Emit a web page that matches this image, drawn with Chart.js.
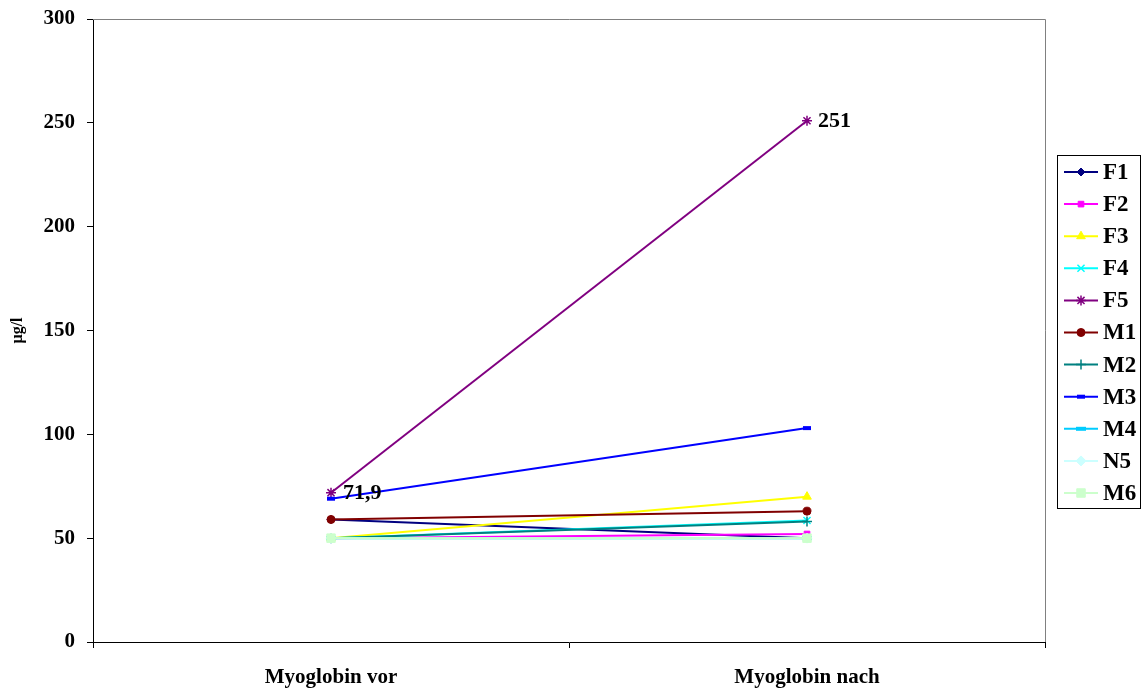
<!DOCTYPE html>
<html>
<head>
<meta charset="utf-8">
<script src="https://cdn.jsdelivr.net/npm/chart.js@4/dist/chart.umd.min.js"></script>
<style>
  html, body { margin: 0; padding: 0; background: #fff; }
  #wrap { width: 1144px; height: 691px; }
</style>
</head>
<body>
<div id="wrap"><canvas id="chart" width="1144" height="691"></canvas></div>
<script>
// categories and series (µg/l)
const categories = ["Myoglobin vor", "Myoglobin nach"];
const F1 = [59, 50];
const F2 = [50, 52];
const F3 = [50, 70];
const F4 = [50, 58.5];
const F5 = [71.9, 251];
const M1 = [59, 63];
const M2 = [50, 58];
const M3 = [69, 103];
const M4 = [50, 50];
const N5 = [50, 50];
const M6 = [50, 50];
const yTicks = [0, 50, 100, 150, 200, 250, 300];

const FONT = "'Liberation Serif', 'Times New Roman', serif";

const series = [
  { label: "F1", data: F1, color: "#000080", style: "rectRot", r: 4 },
  { label: "F2", data: F2, color: "#FF00FF", style: "rect", r: 4 },
  { label: "F3", data: F3, color: "#FFFF00", style: "triangle", r: 5 },
  { label: "F4", data: F4, color: "#00FFFF", style: "crossRot", r: 5 },
  { label: "F5", data: F5, color: "#800080", style: "star", r: 5 },
  { label: "M1", data: M1, color: "#800000", style: "circle", r: 4 },
  { label: "M2", data: M2, color: "#008080", style: "cross", r: 5 },
  { label: "M3", data: M3, color: "#0000FF", style: "line", r: 4 },
  { label: "M4", data: M4, color: "#00CCFF", style: "line", r: 5 },
  { label: "N5", data: N5, color: "#CCFFFF", style: "rectRot", r: 5 },
  { label: "M6", data: M6, color: "#CCFFCC", style: "rect", r: 6 }
];

const datasets = series.map((s, i) => ({
  label: s.label,
  data: s.data,
  borderColor: s.color,
  backgroundColor: s.color,
  borderWidth: 2,
  pointStyle: s.style,
  pointRadius: s.r,
  pointBorderWidth: (s.style === "line") ? 4 : (s.style === "cross" || s.style === "crossRot" || s.style === "star") ? 1.5 : 1,
  pointHoverRadius: s.r,
  tension: 0,
  order: series.length - i
}));

// value labels on F5
const valueLabels = {
  id: "valueLabels",
  afterDatasetsDraw(chart) {
    const ctx = chart.ctx;
    const meta = chart.getDatasetMeta(4);
    ctx.save();
    ctx.font = "bold 22px " + FONT;
    ctx.fillStyle = "#000";
    ctx.textBaseline = "middle";
    ctx.textAlign = "left";
    const p0 = meta.data[0], p1 = meta.data[1];
    ctx.fillText("71,9", p0.x + 12, p0.y + 1);
    ctx.fillText("251", p1.x + 11, p1.y + 1);
    ctx.restore();
  }
};

// plot frame (top/right gray) and legend box
const frameAndLegend = {
  id: "frameAndLegend",
  beforeDatasetsDraw(chart) {
    const { ctx, chartArea: a } = chart;
    ctx.save();
    ctx.strokeStyle = "#808080";
    ctx.lineWidth = 1;
    ctx.beginPath();
    ctx.moveTo(a.left, a.top + 0.5);
    ctx.lineTo(a.right + 0.5, a.top + 0.5);
    ctx.lineTo(a.right + 0.5, a.bottom);
    ctx.stroke();
    ctx.restore();
  },
  afterDraw(chart) {
    const ctx = chart.ctx;
    const bx = 1057.5, by = 155.5, bw = 83, bh = 353;
    ctx.save();
    ctx.strokeStyle = "#000";
    ctx.lineWidth = 1;
    ctx.strokeRect(bx, by, bw, bh);
    ctx.font = "bold 23px " + FONT;
    ctx.textBaseline = "middle";
    ctx.textAlign = "left";
    series.forEach((s, i) => {
      const y = 172 + i * 32.1;
      const ds = chart.data.datasets[i];
      ctx.strokeStyle = s.color;
      ctx.lineWidth = 2;
      ctx.beginPath();
      ctx.moveTo(1064, y);
      ctx.lineTo(1098, y);
      ctx.stroke();
      ctx.fillStyle = s.color;
      ctx.strokeStyle = s.color;
      ctx.lineWidth = ds.pointBorderWidth;
      Chart.helpers.drawPoint(ctx, { pointStyle: s.style, radius: s.r, borderWidth: ds.pointBorderWidth, rotation: 0 }, 1081, y);
      ctx.fillStyle = "#000";
      ctx.fillText(s.label, 1103, y + 1);
    });
    ctx.restore();
  }
};

new Chart(document.getElementById("chart"), {
  type: "line",
  data: { labels: categories, datasets: datasets },
  options: {
    responsive: false,
    animation: false,
    layout: { padding: { top: 19, right: 99, left: 0, bottom: 0 } },
    plugins: {
      legend: { display: false },
      tooltip: { enabled: false }
    },
    scales: {
      x: {
        offset: true,
        grid: {
          offset: true,
          drawOnChartArea: false,
          drawTicks: true,
          tickLength: 6,
          color: "#000"
        },
        border: { color: "#000", width: 1 },
        ticks: {
          color: "#000",
          font: { family: FONT, size: 21, weight: "bold" },
          padding: 17
        },
        afterFit(scale) { scale.height = 49; }
      },
      y: {
        min: 0,
        max: 300,
        afterBuildTicks(scale) { scale.ticks = yTicks.map(v => ({ value: v })); },
        grid: {
          drawOnChartArea: false,
          drawTicks: true,
          tickLength: 6,
          color: "#000"
        },
        border: { color: "#000", width: 1 },
        ticks: {
          color: "#000",
          font: { family: FONT, size: 21, weight: "bold" },
          padding: 12
        },
        title: {
          display: true,
          text: "µg/l",
          color: "#000",
          font: { family: FONT, size: 16, weight: "bold" },
          padding: { top: 8, bottom: 0 }
        },
        afterFit(scale) {
          scale.width = 93;
          scale.paddingTop = 0;
          scale.paddingBottom = 0;
        }
      }
    }
  },
  plugins: [frameAndLegend, valueLabels]
});
</script>
</body>
</html>
